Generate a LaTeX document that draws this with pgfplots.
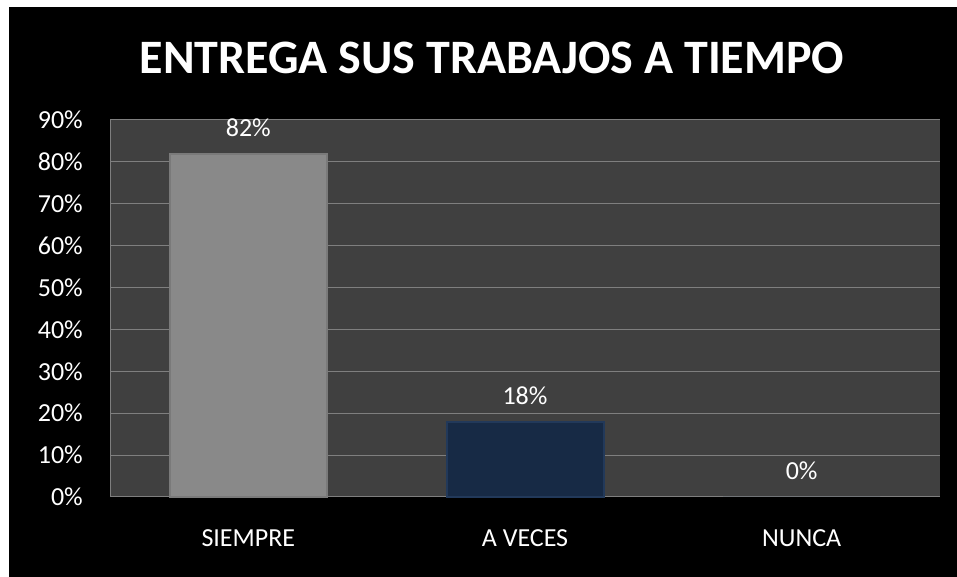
\documentclass[border=0pt]{standalone}
\usepackage{pgfplots}
\pgfplotsset{compat=1.18}
\usepackage{fontspec}
\setmainfont{Carlito}
\definecolor{plotbg}{HTML}{404040}
\definecolor{gridc}{HTML}{7F7F7F}
\definecolor{bargray}{HTML}{898989}
\definecolor{bargrayedge}{HTML}{7A7A7A}
\definecolor{barnavy}{HTML}{172A45}
\definecolor{barnavyedge}{HTML}{22395A}
\begin{document}
\begin{tikzpicture}
\useasboundingbox (0,0) rectangle (957pt,577pt);
\fill[white] (0,0) rectangle (957pt,577pt);
\fill[black] (9pt,0) rectangle (957pt,570pt);
\node[text=white, font=\fontsize{48}{54}\selectfont\bfseries, inner sep=0pt] at (492pt,519pt) {ENTREGA SUS TRABAJOS A TIEMPO};
\begin{axis}[
  at={(110pt,80pt)}, anchor=south west,
  scale only axis, width=830pt, height=377pt,
  xmin=-0.5, xmax=2.5, ymin=0, ymax=90,
  xtick={0,1,2}, xticklabels={SIEMPRE,A VECES,NUNCA},
  ytick={0,10,...,90},
  yticklabel={\pgfmathprintnumber{\tick}\%},
  /pgf/number format/assume math mode=true,
  major tick length=0pt,
  axis background/.style={fill=plotbg},
  ymajorgrids, grid style={gridc, line width=1pt},
  axis line style={gridc, line width=1pt},
  axis x line*=bottom, axis y line*=left,
  separate axis lines,
  x axis line style={-}, y axis line style={-},
  tick label style={text=white, font=\fontsize{26}{30}\selectfont},
  yticklabel style={inner sep=0pt, anchor=east, xshift=-27pt},
  xticklabel style={inner sep=0pt, anchor=center, yshift=-41pt},
  ybar, bar width=157pt,
  nodes near coords={\pgfmathprintnumber{\pgfplotspointmeta}\%},
  every node near coord/.append style={text=white, font=\fontsize{26}{30}\selectfont, anchor=center, yshift=26pt, inner sep=0pt},
  clip=false,
]
\addplot[bar shift=0pt, fill=bargray, draw=bargrayedge, line width=2pt] coordinates {(0,82)};
\addplot[bar shift=0pt, fill=barnavy, draw=barnavyedge, line width=2pt] coordinates {(1,18)};
\addplot[bar shift=0pt, fill=barnavy, draw=none] coordinates {(2,0)};
\end{axis}
\end{tikzpicture}
\end{document}
